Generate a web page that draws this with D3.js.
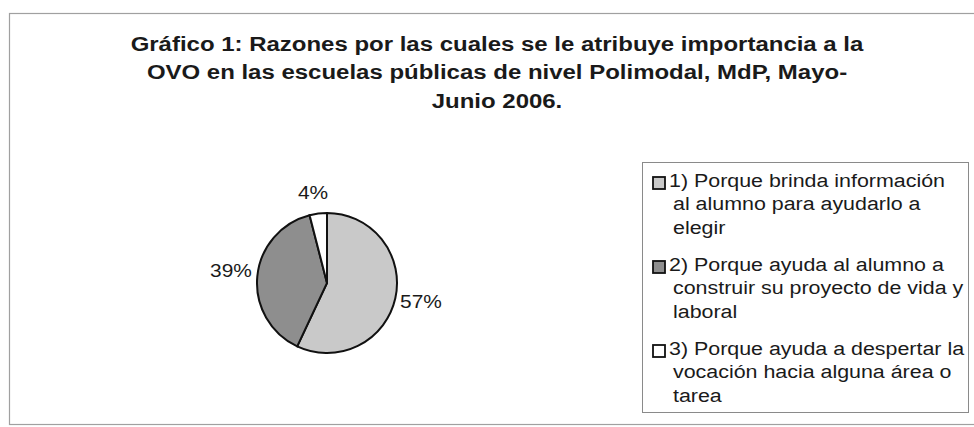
<!DOCTYPE html>
<html>
<head>
<meta charset="utf-8">
<script src="https://cdn.jsdelivr.net/npm/d3@7"></script>
<style>
  body { margin: 0; background: #fff; }
  svg text { font-family: "Liberation Sans", Arial, sans-serif; fill: #1a1a1a; }
</style>
</head>
<body>
<svg id="chart" width="974" height="427"></svg>
<script>
// data
const categories = [
  ['1) Porque brinda información', 'al alumno para ayudarlo a', 'elegir'],
  ['2) Porque ayuda al alumno a', 'construir su proyecto de vida y', 'laboral'],
  ['3) Porque ayuda a despertar la', 'vocación hacia alguna área o', 'tarea']
]
const values = [57, 39, 4]
const colors = ['#c9c9c9', '#8e8e8e', '#ffffff']
const titleLines = [
  'Gráfico 1: Razones por las cuales se le atribuye importancia a la',
  'OVO en las escuelas públicas de nivel Polimodal, MdP, Mayo-',
  'Junio 2006.'
]

const svg = d3.select('#chart')

// outer frame
svg.append('rect')
  .attr('x', 9.5).attr('y', 13.5)
  .attr('width', 980).attr('height', 411)
  .attr('fill', 'none').attr('stroke', '#a0a0a0').attr('stroke-width', 1.2)

// title (scan is stretched horizontally)
svg.append('text')
  .attr('transform', 'translate(497,51) scale(1.23,1)')
  .attr('text-anchor', 'middle')
  .style('font-size', '19.5px')
  .style('font-weight', 'bold')
  .selectAll('tspan')
  .data(titleLines)
  .enter()
  .append('tspan')
  .attr('x', 0)
  .attr('y', (_, i) => i * 28.5)
  .text(d => d)

// pie
const cx = 327, cy = 283, r = 70
const pie = d3.pie().sort(null).value(d => d)
const arcs = pie(values)
const arc = d3.arc().innerRadius(0).outerRadius(r)

const g = svg.append('g').attr('transform', `translate(${cx},${cy})`)
g.selectAll('path')
  .data(arcs)
  .enter()
  .append('path')
  .attr('d', arc)
  .attr('fill', (_, i) => colors[i])
  .attr('stroke', '#111')
  .attr('stroke-width', 2)

const labelPos = [[94, 20], [-96, -11], [-14, -89]]
g.selectAll('text.lbl')
  .data(arcs)
  .enter()
  .append('text')
  .attr('class', 'lbl')
  .attr('transform', (d, i) => `translate(${labelPos[i][0]},${labelPos[i][1]}) scale(1.1,1)`)
  .attr('text-anchor', 'middle')
  .attr('dominant-baseline', 'middle')
  .style('font-size', '19px')
  .text(d => d.value + '%')

// legend
const lx = 642, ly = 162
svg.append('rect')
  .attr('x', lx + 0.5).attr('y', ly + 0.5)
  .attr('width', 326).attr('height', 250)
  .attr('fill', '#fff').attr('stroke', '#8a8a8a')

const item = svg.selectAll('g.item')
  .data(categories)
  .enter()
  .append('g')
  .attr('class', 'item')
  .attr('transform', (_, i) => `translate(${lx}, ${187 + i * 84})`)

item.append('rect')
  .attr('x', 11).attr('y', -10)
  .attr('width', 12).attr('height', 12)
  .attr('fill', (_, i) => colors[i])
  .attr('stroke', '#111').attr('stroke-width', 1.8)

item.append('text')
  .attr('transform', 'scale(1.19,1)')
  .style('font-size', '18px')
  .selectAll('tspan')
  .data(d => d)
  .enter()
  .append('tspan')
  .attr('x', (_, j) => (j === 0 ? 27 : 31) / 1.19)
  .attr('y', (_, j) => j * 23.5)
  .text(d => d)
</script>
</body>
</html>
